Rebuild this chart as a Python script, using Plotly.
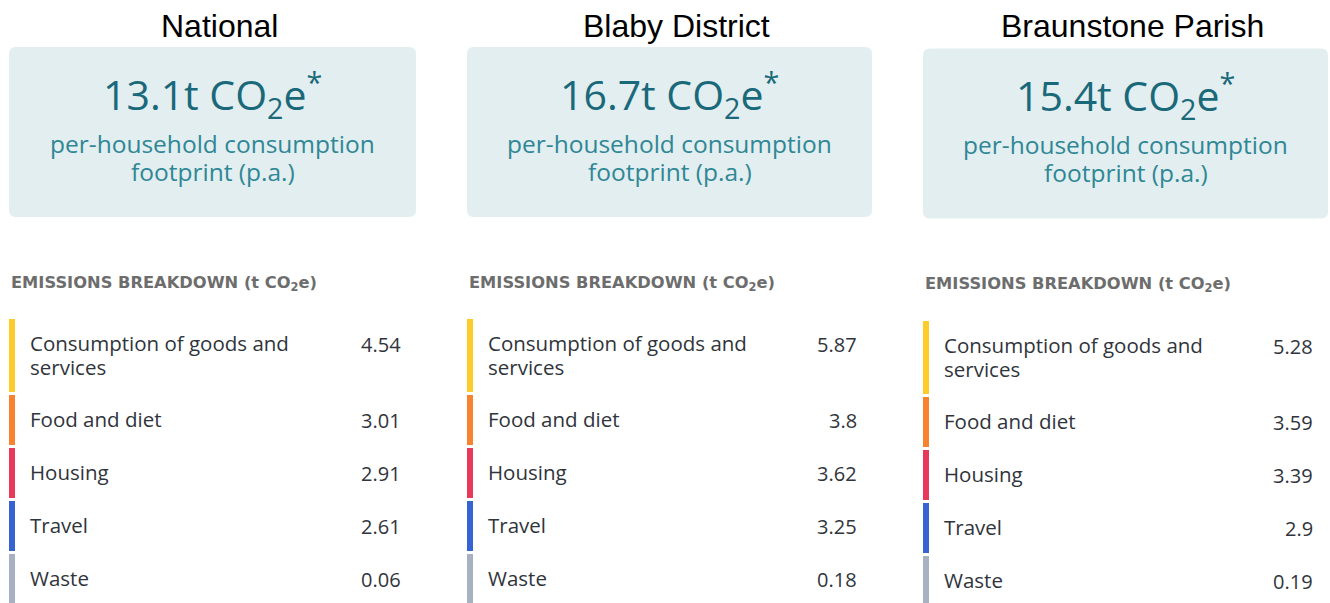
import plotly.graph_objects as go

# ---------------- data ----------------
panel_titles = ["National", "Blaby District", "Braunstone Parish"]
totals = [13.1, 16.7, 15.4]
categories = ["Consumption of goods and<br>services", "Food and diet", "Housing", "Travel", "Waste"]
national = [4.54, 3.01, 2.91, 2.61, 0.06]
blaby = [5.87, 3.8, 3.62, 3.25, 0.18]
braunstone = [5.28, 3.59, 3.39, 2.9, 0.19]
series = [national, blaby, braunstone]
cat_colors = ["#fdcb2a", "#f8822f", "#e8395b", "#3763d2", "#a7b1c2"]

# ---------------- layout constants (pixels) ----------------
W, H = 1330, 603
panel_left = [9, 467, 923]
panel_width = [407, 405, 405]
panel_dy = [0, 0, 1.5]
box_top, box_bottom = 47, 217
row_start = [319, 319, 321]
row_heights = [76, 53, 53, 53, 53]
row_gap = 3
strip_w = 6
label_dx = 19
value_right_pad = 13
label_line_h = 24
title_dx = 7

FONT_UI = "Open Sans"
TEAL_DARK = "#19697a"
TEAL = "#2f8796"
BOX_FILL = "#e3eef0"
TEXT_DARK = "#30343b"


def rounded_rect(x0, y0, x1, y1, r):
    return (f"M {x0+r},{y0} L {x1-r},{y0} Q {x1},{y0} {x1},{y0+r} "
            f"L {x1},{y1-r} Q {x1},{y1} {x1-r},{y1} L {x0+r},{y1} "
            f"Q {x0},{y1} {x0},{y1-r} L {x0},{y0+r} Q {x0},{y0} {x0+r},{y0} Z")


fig = go.Figure()
shapes = []
annotations = []


def add_text(x, y, text, size, color, family=FONT_UI, xanchor="center"):
    annotations.append(dict(x=x, y=y, text=text, showarrow=False,
                            xanchor=xanchor, yanchor="middle", align=xanchor if xanchor != "center" else "center",
                            font=dict(family=family, size=size, color=color)))


for p in range(3):
    x0 = panel_left[p]
    w = panel_width[p]
    dy = panel_dy[p]
    cx = x0 + w / 2

    add_text(cx + title_dx, 26, panel_titles[p], 32, "#000000", family="Liberation Sans, Arial")
    shapes.append(dict(type="path", path=rounded_rect(x0, box_top + dy, x0 + w, box_bottom + dy, 7),
                       fillcolor=BOX_FILL, line=dict(width=0), layer="below"))
    add_text(cx, 94 + dy, f"{totals[p]}t CO<sub>2</sub>e<sup>*</sup>", 41, TEAL_DARK)
    add_text(cx, 143 + dy, "per-household consumption", 24.5, TEAL)
    add_text(cx, 171 + dy, "footprint (p.a.)", 24.5, TEAL)
    add_text(x0, 283 + dy, "<b>EMISSIONS BREAKDOWN (t CO<sub>2</sub>e)</b>", 16.3, "#6d6d6d",
             family="DejaVu Sans", xanchor="left")

    tops = []
    t = row_start[p]
    for h in row_heights:
        tops.append(t)
        t += h
    heights = [h - row_gap for h in row_heights]
    fig.add_trace(go.Bar(
        x=[x0 + strip_w / 2] * len(categories), y=heights, base=tops,
        width=strip_w, marker=dict(color=cat_colors, line=dict(width=0)),
        hoverinfo="skip", showlegend=False))

    for i, cat in enumerate(categories):
        lines = cat.split("<br>")
        mid = tops[i] + heights[i] / 2
        first = mid - (len(lines) - 1) * label_line_h / 2
        for k, ln in enumerate(lines):
            add_text(x0 + label_dx, first + k * label_line_h - 1, ln, 20.5, TEXT_DARK, xanchor="left")
        add_text(x0 + w - value_right_pad, tops[i] + 25, str(series[p][i]), 20, TEXT_DARK,
                 xanchor="right")

fig.update_layout(
    width=W, height=H,
    margin=dict(l=0, r=0, t=0, b=0),
    paper_bgcolor="white", plot_bgcolor="white",
    xaxis=dict(range=[0, W], visible=False, fixedrange=True),
    yaxis=dict(range=[H, 0], visible=False, fixedrange=True),
    shapes=shapes, annotations=annotations, barmode="overlay", bargap=0,
)

fig.write_html("out.html", default_width=f"{W}px", default_height=f"{H}px",
               config={"displayModeBar": False, "staticPlot": True},
               post_script="document.body.style.margin='0';document.body.style.overflow='hidden';")
